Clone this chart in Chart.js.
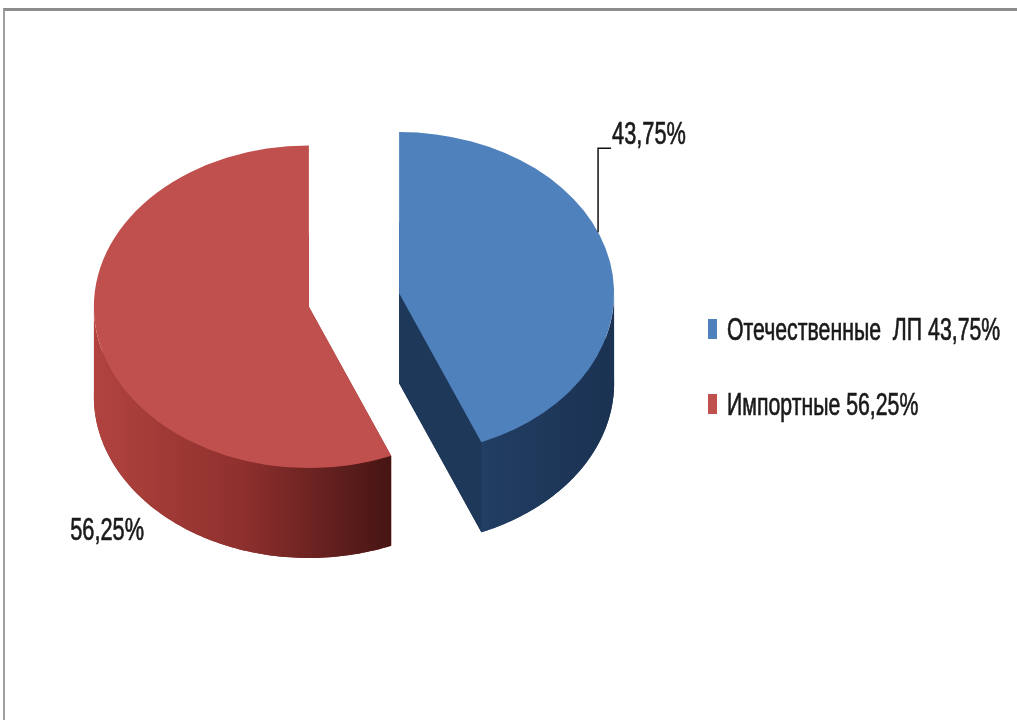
<!DOCTYPE html>
<html lang="ru">
<head>
<meta charset="UTF-8">
<title>Отечественные и импортные ЛП</title>
<script src="https://cdn.jsdelivr.net/npm/chart.js@4.4.1/dist/chart.umd.min.js"></script>
<style>
  html, body { margin: 0; padding: 0; background: #fff; }
  .frame { position: relative; width: 1017px; height: 720px; overflow: hidden; }
  .frame::after {
    content: ''; position: absolute; left: 3px; top: 8px; right: -10px; bottom: -10px;
    border-top: 3px solid #8d8d8d; border-left: 2px solid #a0a0a0; pointer-events: none;
  }
  canvas { display: block; }
</style>
</head>
<body>
<div class="frame"><canvas id="chart" width="1017" height="720"></canvas></div>
<script>
// данные
const categories = ['Отечественные  ЛП 43,75%', 'Импортные 56,25%'];
const shares = [43.75, 56.25];
const valueLabels = ['43,75%', '56,25%'];
const topColors = ['#4f81bd', '#c0504d'];
const wallColors = [['#213e63', '#1e385a', '#1b3252'], ['#b1433f', '#8e302d', '#451514']];

const FONT = '"Liberation Sans", Arial, sans-serif';

// узкий шрифт: сжимаем текст по горизонтали
function condensedText(ctx, text, x, y, align, sx) {
  ctx.save();
  ctx.translate(x, y);
  ctx.scale(sx, 1);
  ctx.textAlign = align;
  ctx.lineWidth = 0.7;
  ctx.strokeStyle = ctx.fillStyle;
  ctx.fillText(text, 0, 0);
  ctx.strokeText(text, 0, 0);
  ctx.restore();
}

// псевдо-3D: боковые стенки + сплющенная верхняя грань
const pie3d = {
  id: 'pie3d',
  beforeDatasetsDraw(chart, args, opts) {
    const ctx = chart.ctx;
    const area = chart.chartArea;
    const cy = (area.top + area.bottom) / 2;
    const proj = (x, y, z) => [x, cy + (y - cy) * opts.tilt + z];
    const d = opts.depth;

    chart.getDatasetMeta(0).data.forEach((arc, i) => {
      const p = arc.getProps(['x', 'y', 'startAngle', 'endAngle', 'outerRadius'], true);
      const mid = (p.startAngle + p.endAngle) / 2;
      const x = p.x + Math.cos(mid) * opts.explode;
      const y = p.y + Math.sin(mid) * opts.explode;
      const r = p.outerRadius;
      const rim = (a, z) => proj(x + r * Math.cos(a), y + r * Math.sin(a), z);
      const c0 = proj(x, y, 0), c1 = proj(x, y, d);
      const walls = wallColors[i];
      const step = 0.02;

      // дно и радиальные грани
      ctx.fillStyle = walls[1];
      ctx.beginPath();
      ctx.moveTo(...c1);
      for (let a = p.startAngle; a < p.endAngle; a += step) ctx.lineTo(...rim(a, d));
      ctx.lineTo(...rim(p.endAngle, d));
      ctx.closePath();
      ctx.fill();
      [p.startAngle, p.endAngle].forEach(a => {
        ctx.beginPath();
        ctx.moveTo(...c0);
        ctx.lineTo(...rim(a, 0));
        ctx.lineTo(...rim(a, d));
        ctx.lineTo(...c1);
        ctx.closePath();
        ctx.fill();
      });

      // передняя закруглённая стенка
      for (let k = 0; k <= 2; k += 2) {
        const lo = Math.max(p.startAngle, k * Math.PI);
        const hi = Math.min(p.endAngle, (k + 1) * Math.PI);
        if (lo >= hi) continue;
        const pts = [];
        for (let a = lo; a < hi; a += step) pts.push(a);
        pts.push(hi);
        const xs = pts.map(a => rim(a, 0)[0]);
        const x0 = Math.min(...xs), x1 = Math.max(...xs);
        const g = ctx.createLinearGradient(x0, 0, x1, 0);
        g.addColorStop(0, walls[0]);
        g.addColorStop(0.5, walls[1]);
        g.addColorStop(1, walls[2]);
        ctx.fillStyle = g;
        ctx.beginPath();
        pts.forEach((a, j) => j ? ctx.lineTo(...rim(a, 0)) : ctx.moveTo(...rim(a, 0)));
        pts.slice().reverse().forEach(a => ctx.lineTo(...rim(a, d)));
        ctx.closePath();
        ctx.fill();
      }

      // верхняя грань рисует сам Chart.js
      ctx.save();
      ctx.translate(0, cy);
      ctx.scale(1, opts.tilt);
      ctx.translate(0, -cy);
      ctx.translate(Math.cos(mid) * opts.explode, Math.sin(mid) * opts.explode);
      arc.draw(ctx);
      ctx.restore();
    });
    return false;
  },
  afterDraw(chart, args, opts) {
    const ctx = chart.ctx;
    const area = chart.chartArea;
    const cy = (area.top + area.bottom) / 2;
    const proj = (x, y, z) => [x, cy + (y - cy) * opts.tilt + z];
    ctx.save();
    ctx.fillStyle = '#1a1a1a';
    ctx.strokeStyle = '#111';
    ctx.lineWidth = 1.5;
    ctx.textBaseline = 'alphabetic';

    // подписи значений
    ctx.font = `${opts.labelFont}px ${FONT}`;
    chart.getDatasetMeta(0).data.forEach((arc, i) => {
      const p = arc.getProps(['x', 'y', 'startAngle', 'endAngle', 'outerRadius'], true);
      const mid = (p.startAngle + p.endAngle) / 2;
      const x = p.x + Math.cos(mid) * opts.explode;
      const y = p.y + Math.sin(mid) * opts.explode;
      const lab = opts.labels[i];
      const a = p.startAngle + (p.endAngle - p.startAngle) * lab.at;
      const [ax, ay] = proj(x + p.outerRadius * Math.cos(a), y + p.outerRadius * Math.sin(a), lab.bottom ? opts.depth : 0);
      if (lab.leader) {
        const ty = ay - lab.leader;
        ctx.strokeStyle = '#111';
        ctx.lineWidth = 1.5;
        ctx.beginPath();
        ctx.moveTo(ax, ay);
        ctx.lineTo(ax, ty);
        ctx.lineTo(ax + 13, ty);
        ctx.stroke();
        condensedText(ctx, valueLabels[i], ax + 14, ty - 4, 'left', opts.squeeze);
      } else {
        condensedText(ctx, valueLabels[i], ax + lab.dx, ay + lab.dy, 'right', opts.squeeze);
      }
    });

    // легенда
    const lg = opts.legend;
    ctx.font = `${lg.font}px ${FONT}`;
    chart.data.labels.forEach((text, i) => {
      const ry = lg.top + i * lg.gap;
      ctx.fillStyle = chart.data.datasets[0].backgroundColor[i];
      ctx.fillRect(lg.x, ry - 10, 9, 20);
      ctx.fillStyle = '#1a1a1a';
      condensedText(ctx, text, lg.x + 19, ry + 11, 'left', opts.squeeze);
    });
    ctx.restore();
  }
};

new Chart(document.getElementById('chart'), {
  type: 'pie',
  data: {
    labels: categories,
    datasets: [{
      data: shares,
      backgroundColor: topColors,
      borderWidth: 0,
      radius: 215
    }]
  },
  options: {
    responsive: false,
    animation: false,
    events: [],
    layout: { padding: { left: 0, right: 309, top: 0, bottom: 120 } },
    plugins: {
      legend: { display: false },
      tooltip: { enabled: false },
      pie3d: {
        tilt: 0.75,
        depth: 90,
        explode: 46,
        labelFont: 32,
        squeeze: 0.68,
        labels: [
          { at: 0.43, leader: 84 },
          { at: 0.333, bottom: true, dx: -13, dy: 29 }
        ],
        legend: { x: 708, top: 329, gap: 75, font: 31.3 }
      }
    }
  },
  plugins: [pie3d]
});
</script>
</body>
</html>
